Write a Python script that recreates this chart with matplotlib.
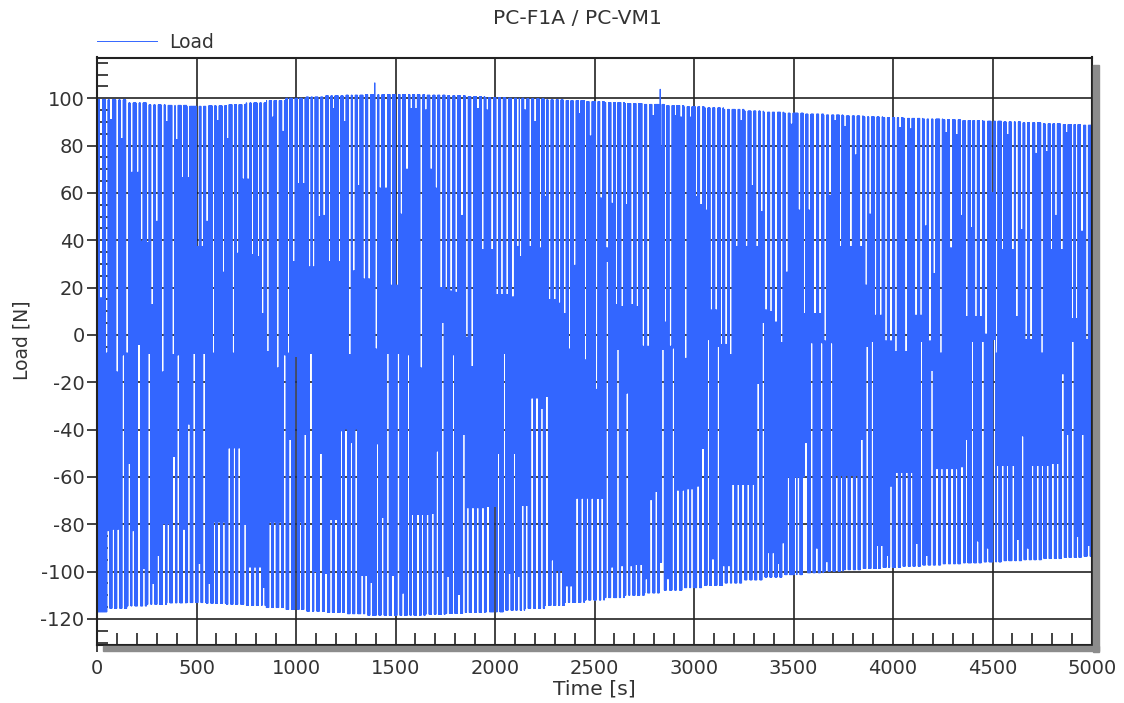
import numpy as np
import matplotlib
matplotlib.use('Agg')
import matplotlib.pyplot as plt
from matplotlib.ticker import MultipleLocator
from matplotlib.patches import Rectangle

# envelope of the load signal, read every 100 s
env_t = np.arange(0, 5001, 100)
upper_env = [99.5, 99.3, 98.0, 97.2, 97.0, 96.6, 96.8, 97.3, 98.0, 99.0,
             100.0, 100.5, 101.0, 101.3, 101.5, 101.6, 101.5, 101.3, 101.0, 100.7,
             100.3, 100.0, 99.7, 99.3, 99.0, 98.6, 98.2, 97.8, 97.4, 96.9,
             96.4, 95.9, 95.3, 94.6, 94.1, 93.7, 93.3, 92.9, 92.5, 92.1,
             91.8, 91.5, 91.2, 90.9, 90.6, 90.3, 90.0, 89.6, 89.2, 88.9, 88.6]
lower_env = [-117.0, -115.5, -114.5, -113.8, -113.2, -113.1, -113.4, -113.8, -114.3, -115.2,
             -116.0, -116.7, -117.3, -117.8, -118.4, -118.5, -118.4, -118.0, -117.7, -117.3,
             -117.0, -116.3, -115.5, -114.3, -113.0, -112.0, -111.0, -110.0, -109.0, -107.8,
             -106.8, -105.8, -104.8, -103.5, -102.3, -101.3, -100.5, -99.8, -99.2, -98.7,
             -98.2, -97.7, -97.2, -96.7, -96.3, -95.9, -95.4, -95.0, -94.5, -94.0, -93.5]

# cycles where the peak stays below the upper envelope (time [s], peak [N])
top_gap_t = [20, 49, 70, 102, 124, 152, 174, 204, 225, 255, 278, 300, 330, 350, 384, 400,
             429, 459, 507, 529, 554, 585, 606, 635, 657, 685, 707, 735, 760, 781, 811, 833,
             859, 883, 909, 935, 963, 988, 1013, 1038, 1069, 1089, 1117, 1142, 1169, 1189,
             1219, 1244, 1270, 1290, 1315, 1343, 1368, 1404, 1424, 1452, 1479, 1508, 1529,
             1558, 1579, 1603, 1630, 1653,
             1680, 1705, 1730, 1755, 1780, 1805, 1834, 1859, 1886, 1914, 1939, 1961, 1986,
             2011, 2035, 2062, 2090, 2115, 2129, 2152, 2177, 2202, 2229, 2253, 2274, 2300,
             2325, 2350, 2375, 2400, 2425, 2455, 2480, 2511,
             2534, 2564, 2589, 2611, 2639, 2661, 2690, 2715, 2745, 2770, 2795, 2832, 2857,
             2882, 2907, 2936, 2958, 2983, 3013, 3036, 3063, 3087, 3112, 3139, 3162, 3184,
             3214, 3237, 3264, 3293, 3318, 3340,
             3362, 3387, 3412, 3441, 3466, 3490, 3530, 3555, 3580, 3608, 3634, 3659, 3684,
             3709, 3737, 3759, 3788, 3813, 3840, 3865, 3885, 3913, 3938, 3965, 3990, 4015,
             4036, 4066, 4089, 4116, 4141, 4165,
             4186, 4208, 4241, 4267, 4292, 4320, 4345, 4370, 4395, 4417, 4442, 4468, 4500,
             4521, 4551, 4576, 4602, 4622, 4647, 4669, 4694, 4719, 4749, 4772, 4797, 4819,
             4848, 4873, 4903, 4923, 4950, 4975]
top_gap_lvl = [15.6, -7.7, 91, -15.7, 83, -7.7, 68.7, 68.7, 39.6, 38.9, 12.7, 48, -15.7, 90, -8.4, 82.5,
               66.5, 66.5, 37.4, 37.4, 48, -7.7, 90.5, 26.5, 83, -7.7, 34.5, 65.8, 65.8, 33.8, 33, 9,
               -7, 92, -14, 86, -7.7, 31, 64, 64, 28.7, 28.7, 50, 50.5, 31, 95.6,
               31, 90, -8.4, 27, 63, 23.6, 23.6, -6, 62, 62, 21, 21, 51,
               70, 95.6, 95.6, -14, 95,
               70, 62, 20, 19, 18.5, 18, 50.5, -1, -13.5, 95.6, 36, 95, 36,
               17, 17, 17, 16, 37.4, 33, 95, 37.4, 90, 36.7, 58.5, 15, 15,
               13.4, 9, -6, 29.4, 93.5, -10.6, 84, -23,
               57.8, 36.7, 55.6, 12.7, 12, 55, 12.7, 12, -4.8, -4.8, 92.7, 79.6, 5.4,
               -4.8, 92.7, 92, -9.9, 92, 58.5, 55, 52.7, 10.5, 10.5, -4, -4, -8.4,
               37.4, 90.5, 37.4, 63, 37.4, 52,
               10.5, 9.8, 5.4, -3.3, 26.5, 89, 52.7, 9, 52.7, 9, 9, -2.6, 59,
               90.5, 37.4, 88, 37.4, 76, 37.4, 21, 51, 8.3, 8.3, -2.6, -2.6, -7,
               87.6, -7, 87, 8.3, 8.3, 46,
               -2.6, 25.8, -7.7, 85.4, 36.7, 84.7, 50.5, 7.6, 45.4, 7.6, 7.6, 0.3, 60,
               -7.7, 36, 84.7, 36, 7.6, 44.5, -1.9, -1.9, 76.7, -7.7, 77.4, 36, 50.5,
               36, 85.4, 6.9, 6.9, 43.8, -1.9]

# cycles where the valley stays above the lower envelope (time [s], valley [N])
bot_gap_t = [57, 82, 107, 132, 163, 183, 211, 236, 263, 283, 308, 337, 359, 387, 409, 437,
             462, 489, 515, 539, 565, 590, 613, 638, 665, 690, 715, 744, 769, 794, 819,
             837, 871, 893, 921, 943, 971, 1000, 1022, 1047, 1075, 1097, 1125, 1151, 1176, 1201,
             1228, 1251, 1278, 1303, 1332, 1353, 1378, 1410, 1435, 1462, 1487, 1515, 1538,
             1566, 1586, 1613, 1636, 1661,
             1688, 1710, 1738, 1764, 1792, 1819, 1844, 1864, 1889, 1914, 1939, 1965, 2000,
             2018, 2048, 2073, 2098, 2119, 2140, 2160, 2187, 2211, 2236, 2261, 2288, 2313,
             2333, 2361, 2383, 2413, 2439, 2464, 2489,
             2517, 2539, 2564, 2589, 2618, 2639, 2665, 2685, 2710, 2735, 2760, 2785, 2810,
             2832, 2844, 2869, 2896, 2919, 2946, 2971, 2990, 3021, 3045, 3072, 3095, 3122,
             3150, 3175, 3197, 3222, 3247, 3273, 3298, 3323,
             3349, 3374, 3399, 3424, 3449, 3474, 3510, 3525, 3550, 3563, 3592, 3617, 3642,
             3667, 3692, 3717, 3742, 3768, 3793, 3818, 3843, 3871, 3896, 3922, 3943, 3972,
             3990, 4019, 4044, 4069, 4094, 4119, 4144, 4170,
             4196, 4221, 4246, 4271, 4297, 4320, 4347, 4370, 4400, 4426, 4451, 4476, 4509,
             4526, 4551, 4576, 4605, 4627, 4652, 4677, 4702, 4727, 4752, 4777, 4803, 4828,
             4853, 4878, 4903, 4928, 4953, 4983]
bot_gap_lvl = [-82.7, -82, -82, -8.4, -54.3, -82.7, -4, -98.7, -7.7, -105, -93, -79.8, -79.8, -51.4, -8.4, -82,
               -37.6, -7.7, -96.5, -7.7, -105, -79, -79, -79, -47.7, -47.7, -47.7, -80, -98, -98, -98,
               -106.7, -79, -79, -79, -8.4, -44, -9, -79, -42, -7.7, -100, -50, -100.7, -78, -78,
               -40.5, -39.7, -45.5, -39.7, -101.5, -101.5, -104.5, -46, -77, -7.7, -101.5, -7.7, -109,
               -8.4, -75.7, -75.7, -75.7, -75.7,
               -75.4, -49, 5.4, -102, -8.4, -109.6, -42, -73, -73, -73, -73, -72.5, -72.5,
               -50, -7.7, -100.7, -50, -102, -72, -72, -26.6, -26.6, -31, -26, -95, -99.4,
               -99.4, -106, -106, -68.9, -68.9, -68.9, -68.9,
               -69, -69, 31, -98, -6, -97.5, -24.5, -97.5, -97, -97, -103, -69.6, -66,
               -96, -6, -103, -5.5, -65.5, -65.5, -65, -65, -63.8, -48, -2, -94.6, -4.8,
               -97.5, -97.5, -63, -63, -63, -63, -63, -20.5,
               5.4, -92, -92, -96.5, -87.8, -60, -60, -60, -60, -45.5, -3.3, -90, -3.3,
               -95.8, -3.3, -59.3, -59.3, -59.3, -59.3, -59.3, -44, -4.8, -2.6, -89, -89, -93,
               -63.8, -58, -58, -58, -58, -88, -2.6, -93,
               -15, -56.5, -56.5, -56.5, -56.5, -56.5, -55.7, -44, -2.6, -87, -2.6, -90, -1.9,
               -55, -55, -55, -55, -86.3, -42.6, -90, -55, -55, -55, -55, -54.3, -54.3,
               -16.4, -42, -2.6, -85, -42, -89]

# single overshoots
spike_t = [1396, 2830]
spike_val = [106.5, 103.8]

# build the sampled load signal: one sample per second, peaks and valleys alternate
t = np.arange(0, 5001)
k = np.round(t / 100).astype(int)
up = np.array(upper_env)[k]
lo = np.array(lower_env)[k]
load = np.where(t % 2 == 0, up, lo)
half = 6
for tg, lv in zip(top_gap_t, top_gap_lvl):
    m = (np.abs(t - tg) <= half) & (t % 2 == 0)
    load[m] = lv
for tg, lv in zip(bot_gap_t, bot_gap_lvl):
    m = (np.abs(t - tg) <= half) & (t % 2 == 1)
    load[m] = lv
for ts, v in zip(spike_t, spike_val):
    load[ts - ts % 2] = v

plt.rcParams['font.family'] = 'DejaVu Sans'
plt.rcParams['axes.unicode_minus'] = False
txt = '#333333'
fs = 14

fig = plt.figure(figsize=(11.24, 7.03), dpi=100)
ax = fig.add_axes([97 / 1124, 58 / 703, 995 / 1124, 587.5 / 703])

ax.plot(t, load, color='#3366ff', lw=0.7, label='Load', zorder=2)

ax.set_xlim(0, 5000)
ax.set_ylim(-131, 117.2)
ax.xaxis.set_major_locator(MultipleLocator(500))
ax.xaxis.set_minor_locator(MultipleLocator(100))
ax.yaxis.set_major_locator(MultipleLocator(20))
ax.yaxis.set_minor_locator(MultipleLocator(5))
ax.set_axisbelow(True)
ax.grid(which='major', color='#222222', lw=1.2)
ax.tick_params(axis='x', which='major', direction='out', length=5, width=1.2,
               color='#222222', labelsize=fs, labelcolor=txt, pad=5)
ax.tick_params(axis='x', which='minor', direction='in', length=9, width=1.2, color='#222222')
ax.tick_params(axis='y', which='major', direction='out', length=7, width=1.2,
               color='#222222', labelsize=fs, labelcolor=txt, pad=2)
ax.tick_params(axis='y', which='minor', direction='in', length=8, width=1.2, color='#222222')
for s in ax.spines.values():
    s.set_color('#222222')
    s.set_linewidth(1.5)

# drop shadow right and below the plot frame
fig.patches.append(Rectangle((1093 / 1124, 51 / 703), 6 / 1124, 587 / 703,
                             transform=fig.transFigure, color='#8c8c8c', zorder=0))
fig.patches.append(Rectangle((103 / 1124, 52 / 703), 996 / 1124, 5.5 / 703,
                             transform=fig.transFigure, color='#8c8c8c', zorder=0))

leg = ax.legend(loc='center left', bbox_to_anchor=(0, 1.0255), frameon=False,
                borderpad=0, borderaxespad=0, handlelength=3.2, handletextpad=0.65,
                fontsize=13.5)
for tx in leg.get_texts():
    tx.set_color(txt)

fig.text(577 / 1124, 1 - 18 / 703, 'PC-F1A / PC-VM1', ha='center', va='center',
         fontsize=14.6, color=txt)
fig.text(594 / 1124, 1 - 689 / 703, 'Time [s]', ha='center', va='center',
         fontsize=14.6, color=txt)
fig.text(22 / 1124, 1 - 340 / 703, 'Load [N]', ha='center', va='center',
         rotation=90, fontsize=13.5, color=txt)

fig.savefig('out.png', dpi=100)
